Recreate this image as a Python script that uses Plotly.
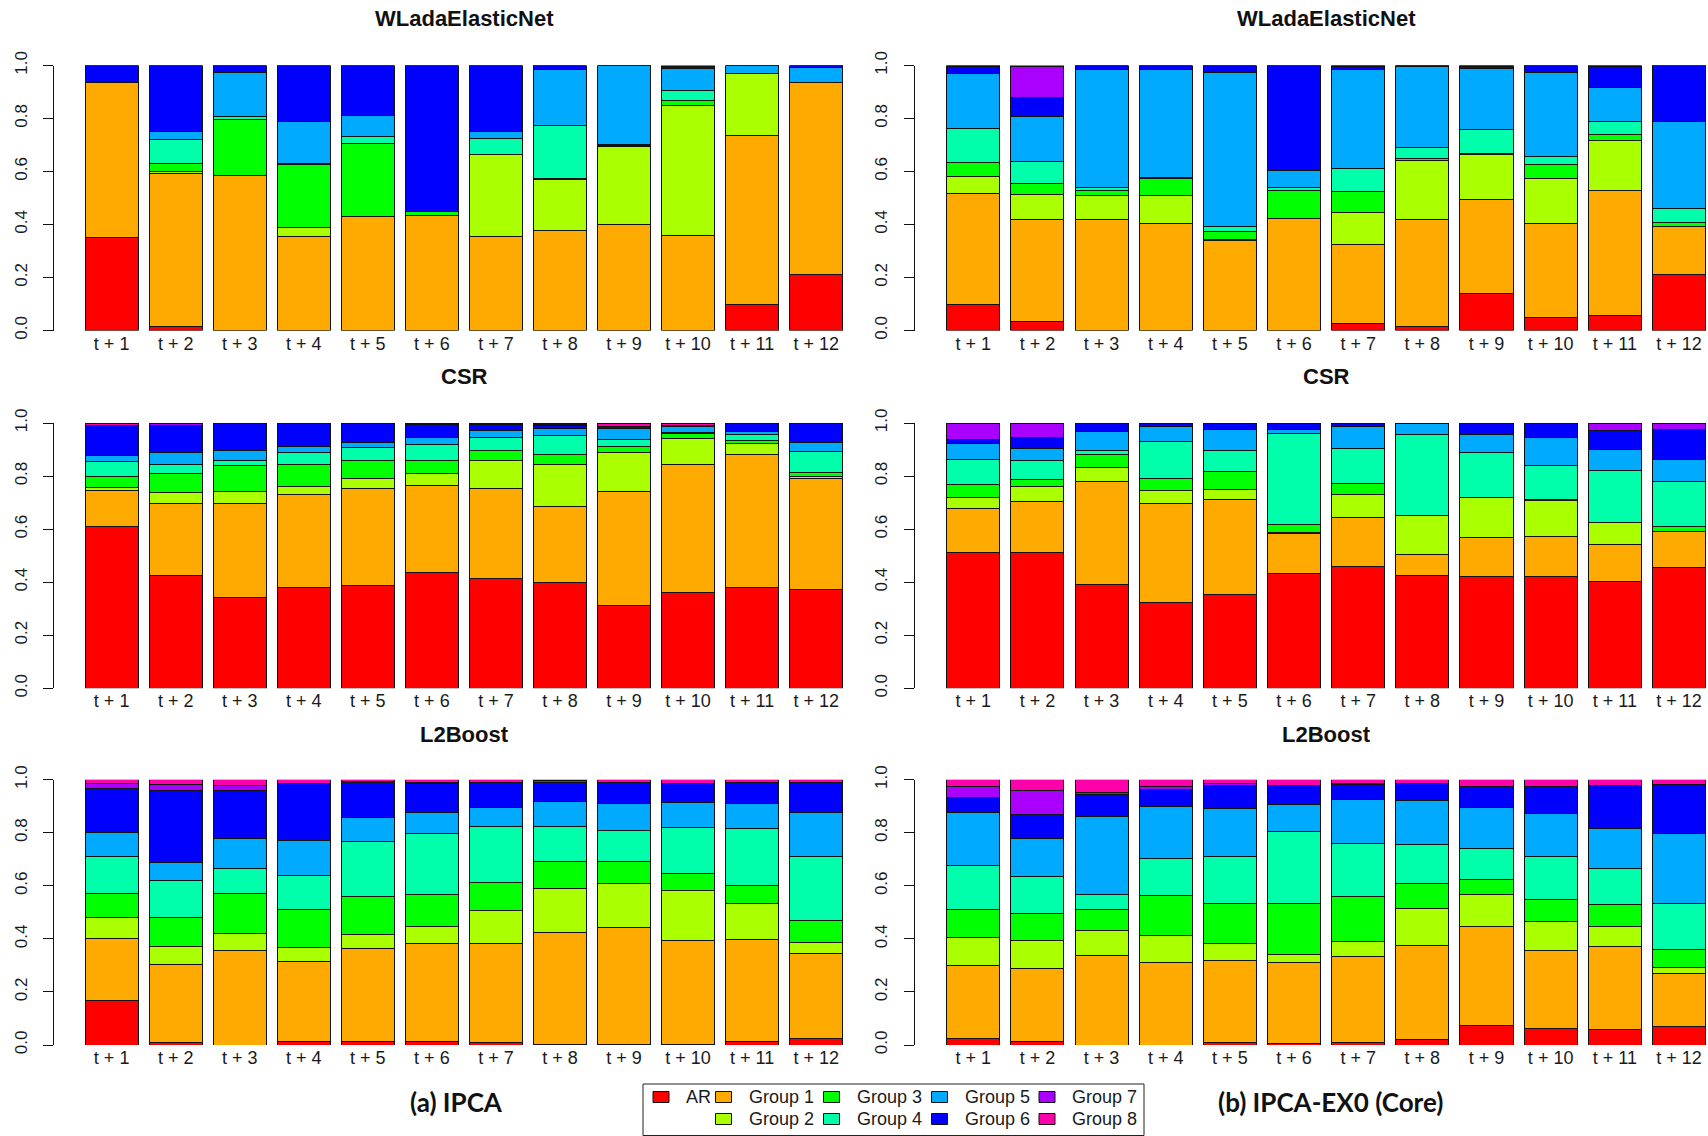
import plotly.graph_objects as go

# ---------------- data ----------------
TICKS = ["t + 1", "t + 2", "t + 3", "t + 4", "t + 5", "t + 6",
         "t + 7", "t + 8", "t + 9", "t + 10", "t + 11", "t + 12"]
SERIES = ["AR", "Group 1", "Group 2", "Group 3", "Group 4",
          "Group 5", "Group 6", "Group 7", "Group 8"]
COLORS = ["#FF0000", "#FFAA00", "#AAFF00", "#00FF00", "#00FFAA",
          "#00AAFF", "#0000FF", "#AA00FF", "#FF00AA"]
Y_TICKS = [0.0, 0.2, 0.4, 0.6, 0.8, 1.0]
Y_TICK_TEXT = ["0.0", "0.2", "0.4", "0.6", "0.8", "1.0"]
ROW_TITLES = ["WLadaElasticNet", "CSR", "L2Boost"]
COL_TITLES = ["(a) IPCA", "(b) IPCA-EX0 (Core)"]

# (a) IPCA - WLadaElasticNet
ipca_wlada_ar = [.350, .016, 0, 0, 0, 0, 0, 0, 0, 0, .098, .211]
ipca_wlada_g1 = [.587, .578, .584, .354, .431, .435, .356, .378, .400, .359, .638, .726]
ipca_wlada_g2 = [0, .005, 0, .033, 0, 0, .307, .191, .295, .490, .235, 0]
ipca_wlada_g3 = [0, .030, .214, .239, .276, .013, 0, .004, .002, .018, 0, 0]
ipca_wlada_g4 = [0, .091, .008, .003, .024, 0, .063, .200, .006, .038, 0, 0]
ipca_wlada_g5 = [0, .031, .168, .160, .081, .002, .025, .211, .297, .085, .029, .055]
ipca_wlada_g6 = [.063, .249, .026, .211, .188, .550, .249, .016, 0, .005, 0, .008]
ipca_wlada_g7 = [0, 0, 0, 0, 0, 0, 0, 0, 0, 0, 0, 0]
ipca_wlada_g8 = [0, 0, 0, 0, 0, 0, 0, 0, 0, .005, 0, 0]

# (b) Core - WLadaElasticNet
core_wlada_ar = [.098, .035, 0, 0, 0, 0, .025, .015, .138, .048, .057, .210]
core_wlada_g1 = [.418, .383, .418, .405, .339, .422, .298, .403, .357, .357, .471, .183]
core_wlada_g2 = [.064, .095, .090, .104, .006, 0, .122, .225, .168, .170, .188, 0]
core_wlada_g3 = [.054, .041, .020, .064, .029, .107, .081, .005, .004, .051, .023, .013]
core_wlada_g4 = [.127, .082, .010, .003, .019, .011, .086, .042, .091, .032, .050, .054]
core_wlada_g5 = [.208, .171, .446, .408, .582, .063, .372, .305, .229, .314, .127, .329]
core_wlada_g6 = [.027, .074, .016, .016, .025, .397, .011, .005, .008, .028, .080, .211]
core_wlada_g7 = [.004, .115, 0, 0, 0, 0, .005, 0, .005, 0, .004, 0]
core_wlada_g8 = [0, .004, 0, 0, 0, 0, 0, 0, 0, 0, 0, 0]

# (a) IPCA - CSR
ipca_csr_ar = [.609, .426, .343, .379, .389, .437, .415, .397, .312, .363, .379, .371]
ipca_csr_g1 = [.138, .269, .352, .353, .365, .326, .339, .290, .430, .479, .504, .420]
ipca_csr_g2 = [.009, .043, .046, .028, .037, .046, .104, .155, .147, .101, .040, .009]
ipca_csr_g3 = [.044, .073, .097, .085, .067, .049, .038, .041, .022, .018, .010, .015]
ipca_csr_g4 = [.054, .031, .020, .043, .050, .060, .050, .069, .025, .005, .022, .078]
ipca_csr_g5 = [.023, .045, .040, .023, .018, .027, .024, .028, .044, .020, .012, .034]
ipca_csr_g6 = [.115, .105, .102, .089, .074, .049, .024, .009, .005, .006, .033, .073]
ipca_csr_g7 = [0, .008, 0, 0, 0, .006, .006, .004, 0, 0, 0, 0]
ipca_csr_g8 = [.008, 0, 0, 0, 0, 0, 0, .007, .015, .008, 0, 0]

# (b) Core - CSR
core_csr_ar = [.511, .511, .393, .324, .354, .431, .460, .427, .421, .421, .402, .456]
core_csr_g1 = [.167, .195, .386, .373, .358, .151, .184, .076, .146, .150, .141, .135]
core_csr_g2 = [.041, .056, .053, .047, .038, .005, .086, .148, .152, .137, .083, 0]
core_csr_g3 = [.050, .024, .050, .047, .069, .031, .041, 0, 0, .004, 0, .019]
core_csr_g4 = [.093, .071, .015, .139, .077, .341, .134, .305, .170, .126, .195, .169]
core_csr_g5 = [.061, .046, .072, .056, .078, .018, .081, .044, .069, .108, .081, .084]
core_csr_g6 = [.015, .042, .031, .014, .026, .023, .014, 0, .042, .054, .068, .111]
core_csr_g7 = [.062, .055, 0, 0, 0, 0, 0, 0, 0, 0, .030, .026]
core_csr_g8 = [0, 0, 0, 0, 0, 0, 0, 0, 0, 0, 0, 0]

# (a) IPCA - L2Boost
ipca_l2_ar = [.168, .010, 0, .014, .014, .014, .010, .003, .003, .003, .014, .023]
ipca_l2_g1 = [.235, .293, .357, .299, .348, .367, .374, .422, .440, .390, .384, .321]
ipca_l2_g2 = [.078, .069, .065, .053, .054, .066, .122, .164, .164, .190, .137, .042]
ipca_l2_g3 = [.089, .110, .148, .145, .144, .122, .108, .103, .085, .064, .067, .084]
ipca_l2_g4 = [.141, .137, .095, .127, .208, .230, .208, .132, .117, .171, .213, .240]
ipca_l2_g5 = [.091, .068, .113, .132, .091, .079, .074, .094, .101, .095, .095, .168]
ipca_l2_g6 = [.163, .272, .182, .217, .132, .106, .095, .073, .081, .074, .081, .113]
ipca_l2_g7 = [.022, .022, .019, 0, .004, .006, 0, .005, 0, 0, 0, 0]
ipca_l2_g8 = [.013, .019, .021, .013, .005, .010, .009, .004, .009, .013, .009, .009]

# (b) Core - L2Boost
core_l2_ar = [.026, .014, 0, 0, .010, .004, .010, .019, .073, .063, .058, .068]
core_l2_g1 = [.272, .276, .338, .312, .310, .308, .324, .355, .374, .294, .313, .202]
core_l2_g2 = [.108, .103, .095, .099, .061, .031, .057, .142, .122, .107, .076, .024]
core_l2_g3 = [.105, .104, .078, .153, .154, .190, .169, .094, .054, .086, .082, .065]
core_l2_g4 = [.167, .137, .055, .138, .175, .272, .199, .145, .117, .159, .135, .174]
core_l2_g5 = [.199, .144, .296, .197, .183, .103, .168, .167, .156, .163, .151, .266]
core_l2_g6 = [.055, .090, .081, .065, .084, .069, .054, .065, .079, .103, .162, .182]
core_l2_g7 = [.042, .092, .010, .011, .008, 0, .004, 0, 0, 0, 0, 0]
core_l2_g8 = [.026, .040, .047, .025, .015, .023, .015, .013, .025, .025, .023, .019]

PANELS = [
    (0, 0, [ipca_wlada_ar, ipca_wlada_g1, ipca_wlada_g2, ipca_wlada_g3, ipca_wlada_g4,
            ipca_wlada_g5, ipca_wlada_g6, ipca_wlada_g7, ipca_wlada_g8]),
    (0, 1, [core_wlada_ar, core_wlada_g1, core_wlada_g2, core_wlada_g3, core_wlada_g4,
            core_wlada_g5, core_wlada_g6, core_wlada_g7, core_wlada_g8]),
    (1, 0, [ipca_csr_ar, ipca_csr_g1, ipca_csr_g2, ipca_csr_g3, ipca_csr_g4,
            ipca_csr_g5, ipca_csr_g6, ipca_csr_g7, ipca_csr_g8]),
    (1, 1, [core_csr_ar, core_csr_g1, core_csr_g2, core_csr_g3, core_csr_g4,
            core_csr_g5, core_csr_g6, core_csr_g7, core_csr_g8]),
    (2, 0, [ipca_l2_ar, ipca_l2_g1, ipca_l2_g2, ipca_l2_g3, ipca_l2_g4,
            ipca_l2_g5, ipca_l2_g6, ipca_l2_g7, ipca_l2_g8]),
    (2, 1, [core_l2_ar, core_l2_g1, core_l2_g2, core_l2_g3, core_l2_g4,
            core_l2_g5, core_l2_g6, core_l2_g7, core_l2_g8]),
]

# ---------------- layout geometry (pixels) ----------------
W, H = 1708, 1136


def fx(p):
    return p / W


def fy(p):
    return 1 - p / H


ROW_TOP = [65.5, 423.0, 779.7]      # pixel y of value 1.0
ROW_BOT = [330.5, 688.3, 1045.0]    # pixel y of value 0.0
COL_DOM = [(79.6, 848.2), (941.2, 1708.0)]
COL_RANGE = [(-0.5, 11.5), (-0.5, 11.453)]
COL_YAXIS = [53.3, 914.0]
COL_TITLE_X = [464.0, 1326.0]
TITLE_Y = [19.0, 377.0, 734.0]

TICK_FONT = dict(family="Liberation Sans, Arial, sans-serif", size=18, color="#1a1a1a")
YTICK_FONT = dict(family="Liberation Sans, Arial, sans-serif", size=17, color="#1a1a1a")

fig = go.Figure()
layout = {}
annotations = []
shapes = []

for k, (r, c, series_vals) in enumerate(PANELS, start=1):
    xa = "x" if k == 1 else f"x{k}"
    ya = "y" if k == 1 else f"y{k}"
    for name, col, vals in zip(SERIES, COLORS, series_vals):
        fig.add_trace(go.Bar(
            x=TICKS, y=vals, name=name, xaxis=xa, yaxis=ya,
            marker=dict(color=col, line=dict(color="#111111", width=1)),
            showlegend=False, hoverinfo="x+y+name",
        ))
    xkey = "xaxis" if k == 1 else f"xaxis{k}"
    ykey = "yaxis" if k == 1 else f"yaxis{k}"
    layout[xkey] = dict(
        domain=[fx(COL_DOM[c][0]), fx(COL_DOM[c][1])],
        range=list(COL_RANGE[c]), type="category", anchor=ya,
        showline=False, ticks="", showgrid=False, zeroline=False,
        tickfont=TICK_FONT, tickangle=0, automargin=False,
    )
    layout[ykey] = dict(
        domain=[fy(ROW_BOT[r]), fy(ROW_TOP[r])],
        range=[0, 1], anchor="free", position=fx(COL_YAXIS[c]),
        showline=True, linecolor="#111111", linewidth=1,
        ticks="outside", ticklen=10, tickwidth=1, tickcolor="#111111",
        tickvals=Y_TICKS, ticktext=Y_TICK_TEXT, tickangle=-90,
        tickfont=YTICK_FONT, ticklabelstandoff=10, automargin=False,
        showgrid=False, zeroline=False,
    )
    annotations.append(dict(
        x=fx(COL_TITLE_X[c]), y=fy(TITLE_Y[r]), xref="paper", yref="paper",
        text=f"<b>{ROW_TITLES[r]}</b>", showarrow=False,
        xanchor="center", yanchor="middle",
        font=dict(family="Liberation Sans, Arial, sans-serif", size=22, color="#111111"),
    ))

# column labels at bottom
for cx, txt in zip([456.0, 1330.0], COL_TITLES):
    annotations.append(dict(
        x=fx(cx), y=fy(1102.0), xref="paper", yref="paper",
        text=f"<b>{txt}</b>", showarrow=False, xanchor="center", yanchor="middle",
        font=dict(family="Lato, Open Sans, sans-serif", size=26, color="#111111"),
    ))

# manual legend (R-style box with 2 rows)
shapes.append(dict(type="rect", xref="paper", yref="paper",
                   x0=fx(643), x1=fx(1144), y0=fy(1135.5), y1=fy(1084),
                   line=dict(color="#222222", width=1), fillcolor="white"))
LEG_POS = [(661, 1097), (723.5, 1097), (723.5, 1119), (831.5, 1097), (831.5, 1119),
           (939.5, 1097), (939.5, 1119), (1047, 1097), (1047, 1119)]
for name, col, (lx, ly) in zip(SERIES, COLORS, LEG_POS):
    shapes.append(dict(type="rect", xref="paper", yref="paper",
                       x0=fx(lx - 8), x1=fx(lx + 8), y0=fy(ly + 5.5), y1=fy(ly - 5.5),
                       line=dict(color="#111111", width=1), fillcolor=col))
    annotations.append(dict(
        x=fx(lx + 23), y=fy(ly), xref="paper", yref="paper", text=name,
        showarrow=False, xanchor="left", yanchor="middle",
        font=dict(family="Liberation Sans, Arial, sans-serif", size=18, color="#1a1a1a"),
    ))

fig.update_layout(
    width=W, height=H, autosize=False,
    margin=dict(l=0, r=0, t=0, b=0, pad=0, autoexpand=False),
    paper_bgcolor="white", plot_bgcolor="white",
    barmode="stack", bargap=0.172,
    annotations=annotations, shapes=shapes,
    showlegend=False,
    **layout,
)

fig.write_html(
    "out.html",
    config={"responsive": False, "displayModeBar": False},
    post_script="document.body.style.margin='0';document.body.style.overflow='hidden';",
)
